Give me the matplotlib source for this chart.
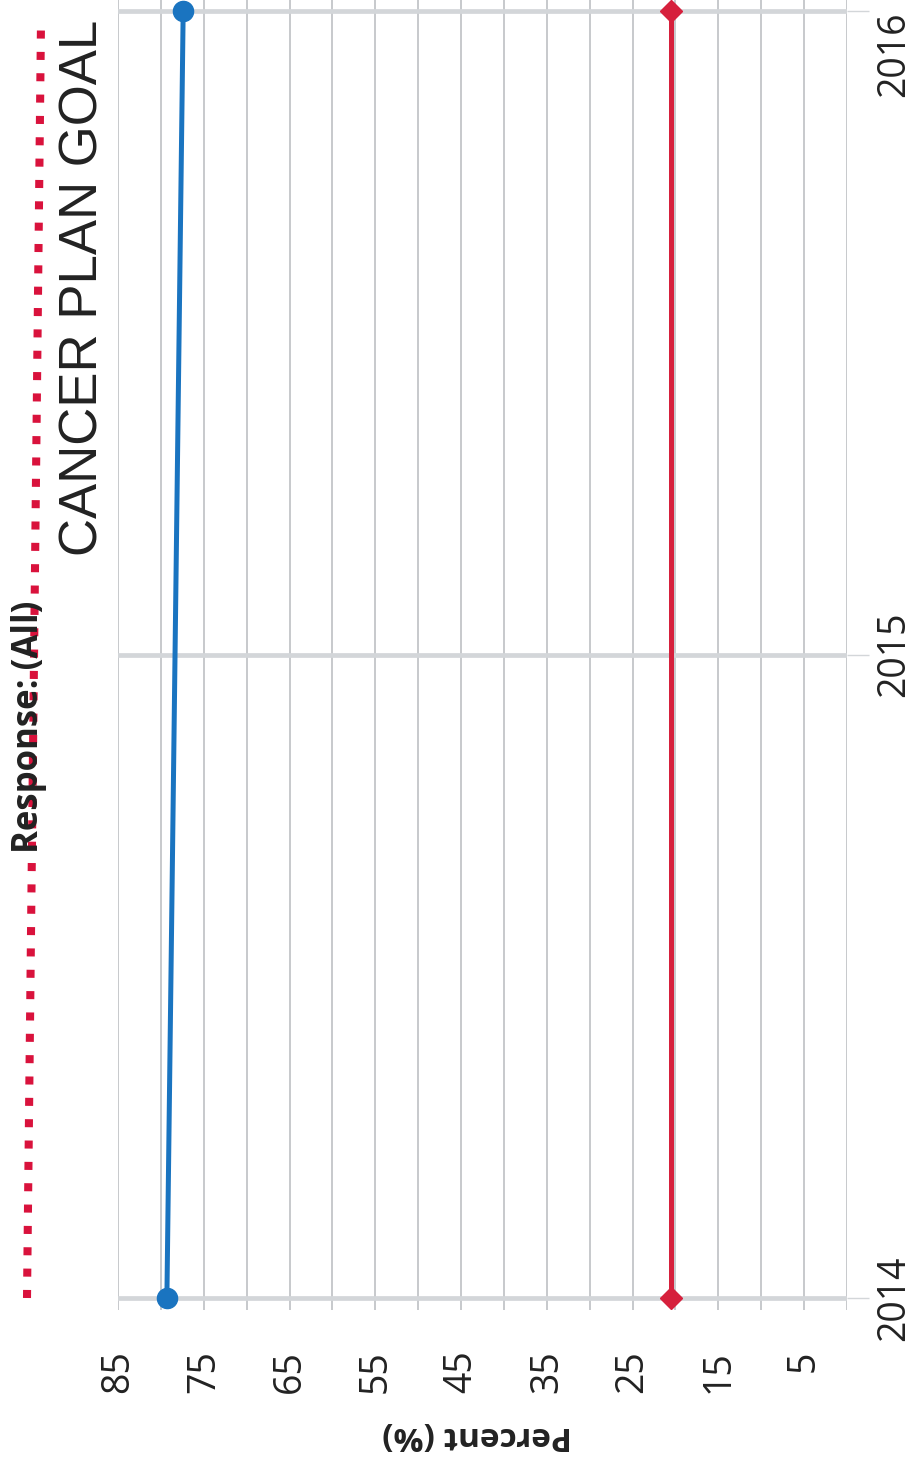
import matplotlib
matplotlib.use("Agg")
import matplotlib.pyplot as plt
from matplotlib.lines import Line2D

# Survey results by year (percent of respondents)
years = [2014, 2016]
response_all = [79.3, 77.4]
plan_goal = [20.5, 20.5]
year_ticks = [2014, 2015, 2016]
year_labels = ["2014", "2015", "2016"]
pct_ticks = [85, 75, 65, 55, 45, 35, 25, 15, 5]
pct_grid = list(range(0, 90, 5))

BLUE = "#1a74c0"
RED = "#d6203c"
DOT_RED = "#d9123c"
GRID = "#c3c5c8"
YEAR_GRID = "#d3d6d9"
TEXT = "#222222"

W, H = 915, 1465
fig = plt.figure(figsize=(W / 100, H / 100), dpi=100)
fig.patch.set_facecolor("white")

def px(x, y):
    """Figure fraction from pixel position (origin top-left)."""
    return x / W, 1 - y / H

left, right = 118 / W, 847 / W
bottom, top = 1 - 1310 / H, 1.0
ax = fig.add_axes([left, bottom, right - left, top - bottom])

# the chart is laid out sideways: percent runs right-to-left, years bottom-to-top
ax.set_xlim(85, 0)
ax.set_ylim(2013.9814, 2016.0171)
for s in ax.spines.values():
    s.set_visible(False)

for v in pct_grid:
    ax.axvline(v, color=GRID, lw=1.3, zorder=1)
for yr in year_ticks:
    ax.axhline(yr, color=YEAR_GRID, lw=3.4, zorder=1.5)

ax.plot(response_all, years, color=BLUE, lw=3.6, marker="o", ms=14.5,
        solid_capstyle="round", zorder=3)
ax.plot(plan_goal, years, color=RED, lw=3.6, marker="D", ms=11,
        zorder=3)

ax.set_xticks(pct_ticks)
ax.set_xticklabels([str(t) for t in pct_ticks], rotation=90, va="top",
                   ha="center", fontsize=27, family="Open Sans", color=TEXT)
ax.tick_params(axis="x", length=0, pad=29)

ax.yaxis.tick_right()
ax.set_yticks(year_ticks)
ax.set_yticklabels(year_labels, rotation=90, va="center", ha="left",
                   fontsize=27, family="Open Sans", color=TEXT)
ax.tick_params(axis="y", length=16, width=1.0, color=YEAR_GRID, pad=4)
for lab in ax.get_yticklabels():
    if lab.get_text() == "2016":
        lab.set_va("top")

fig.text(*px(477, 1435), "Percent (%)", rotation=180, ha="center",
         va="center", fontsize=24, fontweight="bold", family="Open Sans",
         color=TEXT)

# filter header: dotted rule with the selected response
dots = Line2D([27 / W, 41 / W], [1 - 1298 / H, 1 - 22 / H],
              transform=fig.transFigure, color=DOT_RED, lw=5.8,
              linestyle=(0, (1.0, 1.65)), dash_capstyle="butt")
fig.add_artist(dots)
fig.text(*px(29, 727), "Response: (All)", rotation=90, ha="center",
         va="center", fontsize=25, fontweight="bold", family="Open Sans",
         color=TEXT, zorder=5)

fig.text(*px(84, 288), "CANCER PLAN GOAL", rotation=90, ha="center",
         va="center", fontsize=38, family="Liberation Sans", color=TEXT)

fig.savefig("out.png", dpi=100, facecolor="white")
